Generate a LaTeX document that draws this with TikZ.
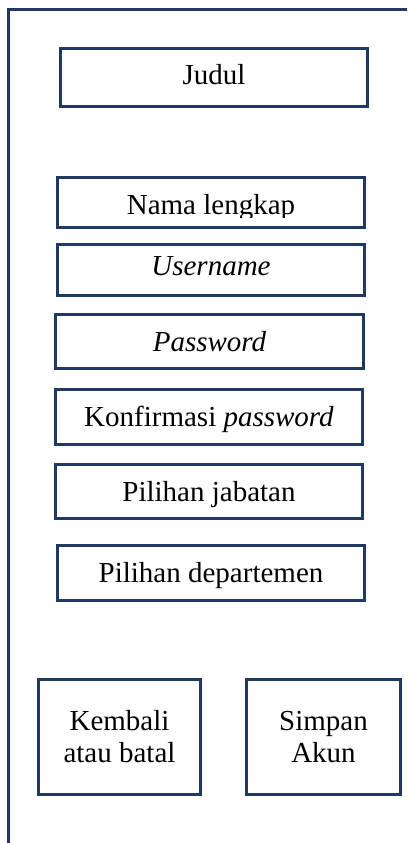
\documentclass[tikz,border=0pt]{standalone}
\usepackage{fontspec}
\setmainfont{Liberation Serif}

\begin{document}
\begin{tikzpicture}[x=1pt, y=-1pt,
	field/.style={draw=cFrame, line width=2.6pt, rectangle, inner sep=0pt,
		minimum width=307pt, font=\fontsize{29}{32}\selectfont,
		text height=19pt, text depth=0pt},
	button/.style={draw=cFrame, line width=2.6pt, rectangle, inner sep=0pt,
		minimum height=115pt, align=center, font=\fontsize{29}{32}\selectfont}]
	\definecolor{cFrame}{HTML}{1F3864}

	\useasboundingbox (0,0) rectangle (407,843);
	\clip (0,0) rectangle (407,843);

	% outer frame, runs off the right and bottom
	\draw[cFrame, line width=3pt] (8,860) -- (8,9.5) -- (420,9.5);

	\node[field, minimum height=58pt, text depth=5pt] (judul) at (214,77.5) {Judul};

	\node[field, minimum height=50pt] (nama) at (211,202.5) {};
	\begin{scope}
		\clip (59,179) rectangle (363,217);
		\node[inner sep=0pt, font=\fontsize{29}{32}\selectfont, text height=19pt, text depth=0pt]
			(namatext) at (211,205) {Nama lengkap};
	\end{scope}

	\node[field, minimum height=51pt, text depth=9pt] (username) at (211,270) {\textit{Username}};
	\node[field, minimum width=308pt, minimum height=54pt] (password) at (209.5,341.5) {\textit{Password}};
	\node[field, minimum height=55pt] (konfirmasi) at (209,417) {Konfirmasi \textit{password}};
	\node[field, minimum height=54pt] (jabatan) at (209,491.5) {Pilihan jabatan};
	\node[field, minimum height=55pt] (departemen) at (211,573) {Pilihan departemen};

	\node[button, minimum width=162pt] (kembali) at (119.5,737) {Kembali\\atau batal};
	\node[button, minimum width=154pt] (simpan) at (323.5,737) {Simpan\\Akun};
\end{tikzpicture}
\end{document}
